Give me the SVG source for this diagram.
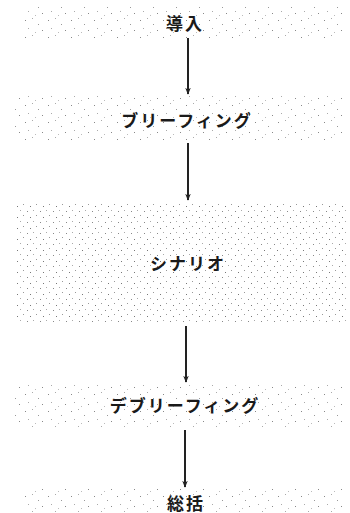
<svg xmlns="http://www.w3.org/2000/svg" width="350" height="513" viewBox="0 0 350 513">
<defs>
<pattern id="dots" width="23" height="17" patternUnits="userSpaceOnUse">
<rect x="2" y="3" width="1" height="1" fill="#888"/>
<rect x="9" y="1" width="1" height="1" fill="#aaa"/>
<rect x="15" y="7" width="1" height="1" fill="#999"/>
<rect x="5" y="11" width="1" height="1" fill="#aaa"/>
<rect x="19" y="13" width="1" height="1" fill="#888"/>
<rect x="12" y="15" width="1" height="1" fill="#bbb"/>
</pattern>
<pattern id="dense" width="13" height="11" patternUnits="userSpaceOnUse">
<rect x="1" y="2" width="1" height="1" fill="#888"/>
<rect x="7" y="1" width="1" height="1" fill="#aaa"/>
<rect x="10" y="6" width="1" height="1" fill="#999"/>
<rect x="4" y="8" width="1" height="1" fill="#777"/>
</pattern>
<marker id="arr" viewBox="0 0 10 10" refX="9" refY="5" markerWidth="7" markerHeight="7" orient="auto" markerUnits="userSpaceOnUse">
<path d="M0,1 L10,5 L0,9 L3,5 Z" fill="#222"/>
</marker>
</defs>
<style>
.band{fill:url(#dots);}
.bandd{fill:url(#dense);}
.lbl{font-family:"Noto Sans CJK JP","Noto Sans",sans-serif;font-size:17px;font-weight:bold;letter-spacing:2px;fill:#1a1a1a;text-anchor:middle;dominant-baseline:central;}
.conn{stroke:#222;stroke-width:2;fill:none;marker-end:url(#arr);}
</style>
<rect width="350" height="513" fill="#ffffff"/>
<g id="n1"><rect class="band" x="20" y="4" width="325" height="34"/><text class="lbl" x="185" y="22">導入</text></g>
<g id="n2"><rect class="band" x="15" y="96" width="330" height="44"/><text class="lbl" x="187" y="119">ブリーフィング</text></g>
<g id="n3"><rect class="bandd" x="17" y="201" width="330" height="122"/><text class="lbl" x="188" y="262">シナリオ</text></g>
<g id="n4"><rect class="band" x="15" y="383" width="330" height="45"/><text class="lbl" x="185" y="404">デブリーフィング</text></g>
<g id="n5"><rect class="band" x="20" y="488" width="325" height="25"/><text class="lbl" x="186" y="502">総括</text></g>
<g id="connectors">
<line class="conn" x1="188" y1="38" x2="188" y2="94"/>
<line class="conn" x1="188" y1="143" x2="188" y2="200"/>
<line class="conn" x1="186" y1="326" x2="186" y2="382"/>
<line class="conn" x1="185" y1="430" x2="185" y2="487"/>
</g>
</svg>
